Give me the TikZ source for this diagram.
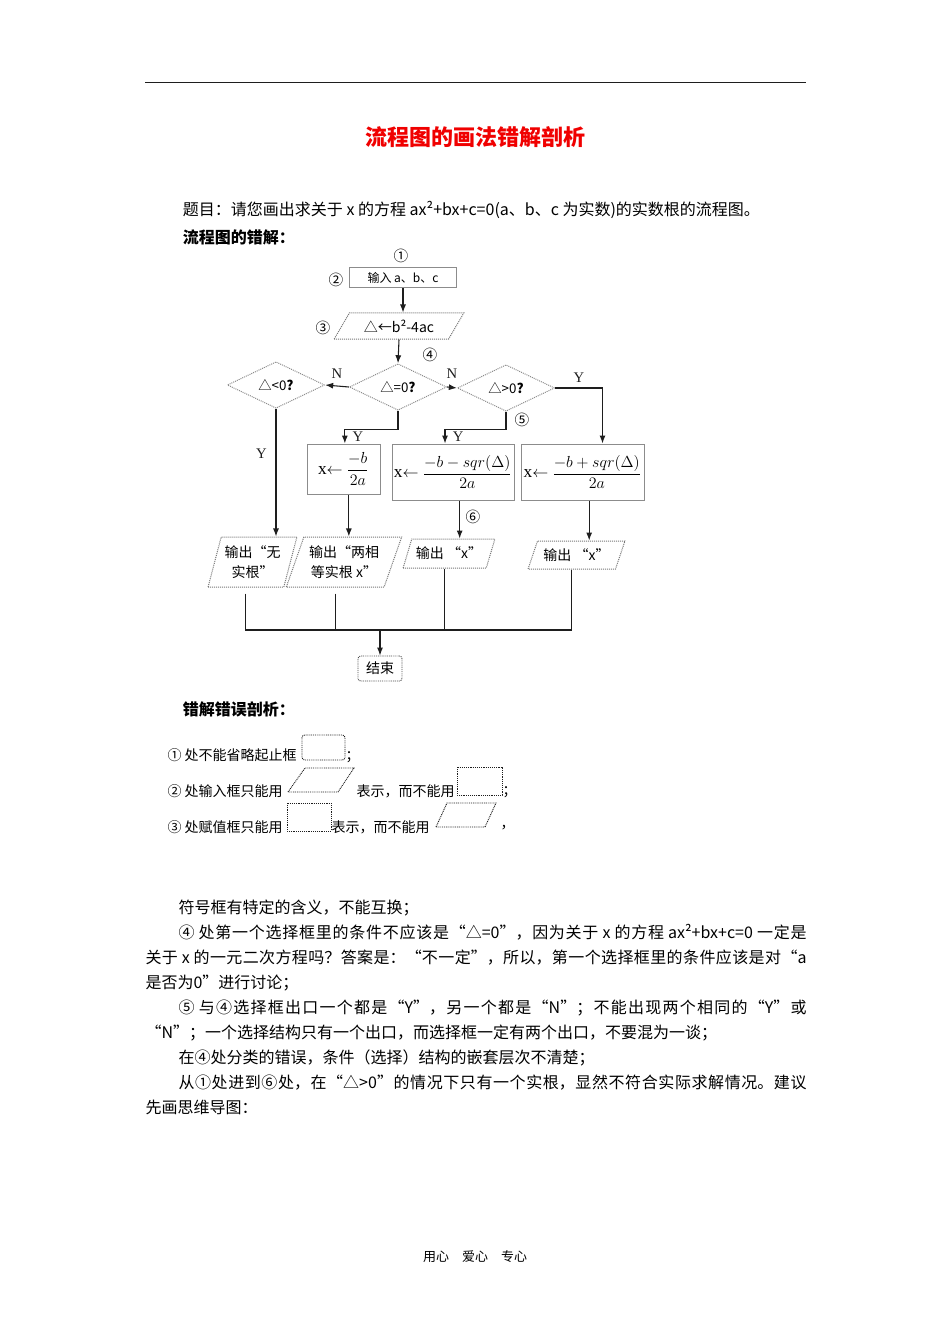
\documentclass[tikz,border=0pt]{standalone}
\usepackage{amsmath}
\usepackage[no-math]{fontspec}
\setmainfont{Noto Sans CJK SC}
\newfontfamily\tnr{Liberation Serif}
\usetikzlibrary{arrows.meta,shapes.geometric}
\definecolor{ink}{HTML}{1E1E1E}
\definecolor{frame}{HTML}{8C8C8C}
\definecolor{headred}{HTML}{F00000}

\begin{document}
\begin{tikzpicture}[x=0.75pt,y=-0.75pt,>={Latex[length=6pt,width=4.5pt]},line width=0.8pt,
  arr/.style={->,ink},
  txt/.style={font=\fontsize{12}{18.75}\selectfont},
  note/.style={font=\fontsize{10.5}{12}\selectfont,inner sep=0pt},
  num/.style={font=\fontsize{11}{12}\selectfont,inner sep=0pt},
  yn/.style={font=\tnr\fontsize{11}{12}\selectfont,inner sep=1.5pt},
  proc/.style={draw=frame,line width=0.75pt,inner sep=1pt,font=\fontsize{13}{15}\selectfont},
  dec/.style={diamond,draw=frame,line width=0.75pt,dash pattern=on 0.75pt off 0.75pt,
    minimum width=73pt,minimum height=28pt,inner sep=0pt,font=\fontsize{10}{12}\selectfont},
  io/.style 2 args={trapezium,trapezium stretches=true,trapezium left angle=#1,trapezium right angle=#2,
    draw=frame!85!black,line width=0.75pt,dash pattern=on 0.75pt off 0.75pt,inner sep=1pt,
    align=center,font=\fontsize{10.5}{15}\selectfont},
  dotbox/.style={draw=ink,line width=0.7pt,dash pattern=on 0.7pt off 0.7pt}]
\fill[white] (0,0) rectangle (950,1344);
\useasboundingbox (0,0) rectangle (950,1344);

% page head
\draw[ink,line width=0.75pt] (145,83) -- (806,83);
\node[font=\fontsize{16.5}{20}\selectfont\bfseries,text=headred] (title) at (475,137) {流程图的画法错解剖析};
\node[txt,anchor=west] (task) at (178,210) {题目：请您画出求关于 x 的方程 ax²+bx+c=0(a、b、c 为实数)的实数根的流程图。};
\node[anchor=west,font=\fontsize{12}{18.75}\selectfont\bfseries] (wrong) at (178,237) {流程图的错解：};

% flow chart
\node[proc,minimum width=80.25pt,minimum height=15pt,font=\fontsize{9}{11}\selectfont] (in) at (403,278) {输入 a、b、c};
\node[io={54}{126},minimum width=97.5pt,minimum height=19.5pt] (asg) at (399,326) {△←b²-4ac};
\node[dec] (eq) at (398,387) {△=0\textbf{?}};
\node[dec] (lt) at (276,385) {△<0\textbf{?}};
\node[dec] (gt) at (506,388) {△>0\textbf{?}};
\node[proc,minimum width=54.75pt,minimum height=37.5pt] (x1) at (343.5,469) {{\tnr x}$\leftarrow$ $\dfrac{-b}{2a}$};
\node[proc,minimum width=91.5pt,minimum height=42pt] (x2) at (453,472) {{\tnr x}$\leftarrow$ $\dfrac{-b-sqr(\Delta)}{2a}$};
\node[proc,minimum width=92.25pt,minimum height=42pt] (x3) at (582.5,472) {{\tnr x}$\leftarrow$ $\dfrac{-b+sqr(\Delta)}{2a}$};
\node[io={71}{109},minimum width=66.75pt,minimum height=37.5pt] (o1) at (252.5,562) {输出“无\\实根”};
\node[io={66}{114},minimum width=87pt,minimum height=37.5pt] (o2) at (344,562) {输出“两相\\等实根 x”};
\node[io={63}{117},minimum width=69pt,minimum height=21.75pt] (o3) at (449,553.5) {输出 “x”};
\node[io={62}{118},minimum width=72.75pt,minimum height=21pt] (o4) at (576.5,555) {输出 “x”};
\node[draw=ink!80,line width=0.7pt,dash pattern=on 0.7pt off 0.7pt,rounded corners=2pt,
  minimum width=33pt,minimum height=18.75pt,inner sep=1pt,font=\fontsize{10.5}{12}\selectfont] (stop) at (380,668.5) {结束};

\node[num] (n1) at (401,256) {①};
\node[num] (n2) at (336,280) {②};
\node[num] (n3) at (323,328) {③};
\node[num] (n4) at (430,355) {④};
\node[num] (n5) at (522,420) {⑤};
\node[num] (n6) at (473,517) {⑥};

\draw[arr] (in.south) -- (in.south |- asg.north);
\draw[arr] (asg.south) -- (eq.north);
\draw[arr] (eq.west) -- node[yn,above=4pt]{N} (lt.east);
\draw[arr] (eq.east) -- node[yn,above=5pt]{N} (gt.west);
\draw[arr] (gt.east) -| node[yn,pos=.25,above=2pt]{Y} ([xshift=15pt]x3.north);
\draw[arr] (lt.south) -- node[yn,pos=.35,left=5pt]{Y} (lt.south |- o1.north);
\draw[arr] (eq.south) -- ++(0,19) -| node[yn,pos=.75,right=4pt]{Y} ([xshift=1pt]x1.north);
\draw[arr] (gt.south) -- ++(0,18) -| node[yn,pos=.75,right=4pt]{Y} ([xshift=-6pt]x2.north);
\draw[arr] ([xshift=4pt]x1.south) -- ([xshift=4pt]x1.south |- o2.north);
\draw[arr] ([xshift=5pt]x2.south) -- ([xshift=5pt]x2.south |- o3.north);
\draw[arr] ([xshift=5pt]x3.south) -- ([xshift=5pt]x3.south |- o4.north);

\coordinate (bus) at (380,630);
\draw[ink] ([yshift=-4.5pt]o1.bottom side) -- (o1.bottom side |- bus) -- (o4.bottom side |- bus) -- (o4.bottom side);
\draw[ink] ([yshift=-4.5pt]o2.bottom side) -- (o2.bottom side |- bus);
\draw[ink] (o3.bottom side) -- (o3.bottom side |- bus);
\draw[arr] (bus) -- (stop.north);

% analysis
\node[anchor=west,font=\fontsize{12}{18.75}\selectfont\bfseries] (why) at (178,709) {错解错误剖析：};
\node[note,anchor=west] (r1) at (167,755) {① 处不能省略起止框};
\draw[dotbox,rounded corners=2pt] (302,735) rectangle (345,760);
\node[note,anchor=west] (r1e) at (345,757) {；};
\node[note,anchor=west] (r2) at (167,791) {② 处输入框只能用};
\draw[dotbox] (288,792) -- (305,768) -- (354,768) -- (338,792) -- cycle;
\node[note,anchor=west] (r2m) at (356,791) {表示，而不能用};
\draw[dotbox] (457,767) rectangle (502,795);
\node[note,anchor=west] (r2e) at (502,792) {；};
\node[note,anchor=west] (r3) at (167,827) {③ 处赋值框只能用};
\draw[dotbox] (287,803) rectangle (331,831);
\node[note,anchor=west] (r3m) at (331,827) {表示，而不能用};
\draw[dotbox] (436,827) -- (447,803) -- (496,803) -- (485,827) -- cycle;
\node[note,anchor=west] (r3e) at (500,828) {，};

\node[anchor=north west,text width=495.75pt,align=justify,inner sep=0pt,font=\fontsize{12}{18.75}\selectfont] (body) at (145,899) {%
\XeTeXlinebreaklocale "zh"\XeTeXlinebreakskip=0pt plus 2pt minus 1pt\XeTeXlinebreakpenalty=10000
\hspace*{24.75pt}符号框有特定的含义，不能互换；\par
\hspace*{24.75pt}④ 处第一个选择框里的条件不应该是“△=0”，因为关于 x 的方程 ax²+bx+c=0 一定是\linebreak
关于 x 的一元二次方程吗？答案是：“不一定”，所以，第一个选择框里的条件应该是对“a\linebreak
是否为0”进行讨论；\par
\hspace*{24.75pt}⑤ 与④选择框出口一个都是“Y”，另一个都是“N”；不能出现两个相同的“Y”或\linebreak
“N”；一个选择结构只有一个出口，而选择框一定有两个出口，不要混为一谈；\par
\hspace*{24.75pt}在④处分类的错误，条件（选择）结构的嵌套层次不清楚；\par
\hspace*{24.75pt}从①处进到⑥处，在“△>0”的情况下只有一个实根，显然不符合实际求解情况。建议\linebreak
先画思维导图：};

\node[font=\fontsize{9.75}{12}\selectfont] (foot) at (475,1257) {用心\quad 爱心\quad 专心};
\end{tikzpicture}
\end{document}
